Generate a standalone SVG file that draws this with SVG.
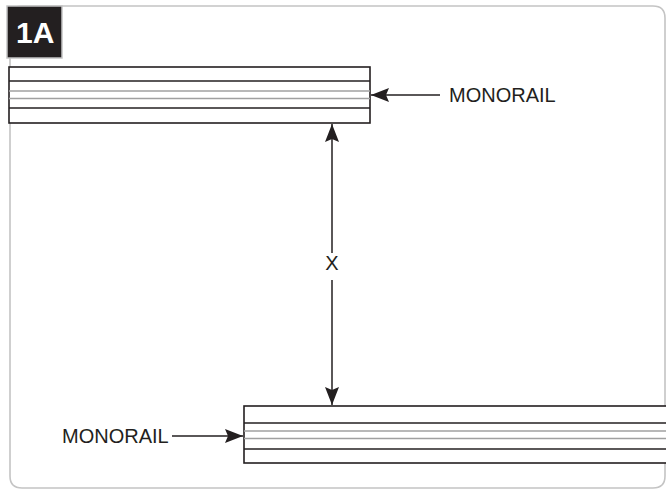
<svg xmlns="http://www.w3.org/2000/svg" width="666" height="490" viewBox="0 0 666 490">
<defs>
<style>
.frame{fill:none;stroke:#c4c4c4;stroke-width:1.6}
.rail{fill:#fff;stroke:#231f20;stroke-width:1.6}
.blk{stroke:#231f20;stroke-width:1.6}
.gry{stroke:#a0a0a0;stroke-width:1.6}
.conn{stroke:#231f20;stroke-width:1.5;fill:none}
.lbl{font-family:"Liberation Sans",Arial,sans-serif;font-size:20px;fill:#231f20}
</style>
<marker id="ah" viewBox="0 0 18 14" refX="18" refY="7" markerWidth="18" markerHeight="14" markerUnits="userSpaceOnUse" orient="auto-start-reverse">
<path d="M0,0 L18,7 L0,14 L3,7 Z" fill="#231f20"/>
</marker>
</defs>
<rect width="666" height="490" fill="#fff"/>
<path class="frame" d="M10,18 Q10,6 22,6 L653,6 Q665,6 665,18 L665,476 Q665,488 653,488 L22,488 Q10,488 10,476 Z"/>
<g id="tag">
<rect x="7" y="6" width="55" height="52" fill="#231f20" stroke="#c4c4c4" stroke-width="1.5"/>
<text x="16" y="43" font-family="'Liberation Sans',Arial,sans-serif" font-size="30" font-weight="bold" fill="#fff">1A</text>
</g>
<g id="monorail-top">
<rect class="rail" x="9" y="67" width="361" height="56"/>
<line class="blk" x1="9" y1="81" x2="370" y2="81"/>
<line class="gry" x1="9" y1="91" x2="370" y2="91"/>
<line class="gry" x1="9" y1="98.5" x2="370" y2="98.5"/>
<line class="blk" x1="9" y1="108" x2="370" y2="108"/>
</g>
<g id="monorail-bottom">
<rect class="rail" x="244" y="406" width="430" height="57"/>
<line class="blk" x1="244" y1="423" x2="666" y2="423"/>
<line class="gry" x1="244" y1="431" x2="666" y2="431"/>
<line class="gry" x1="244" y1="438.5" x2="666" y2="438.5"/>
<line class="blk" x1="244" y1="449" x2="666" y2="449"/>
</g>
<g id="label-top"><text class="lbl" x="449" y="102">MONORAIL</text></g>
<g id="label-bottom"><text class="lbl" x="62" y="443">MONORAIL</text></g>
<g id="label-x"><text class="lbl" x="332" y="270" text-anchor="middle">X</text></g>
<g id="connectors">
<line class="conn" x1="440" y1="95" x2="371" y2="95" marker-end="url(#ah)"/>
<line class="conn" x1="172" y1="436" x2="243" y2="436" marker-end="url(#ah)"/>
<line class="conn" x1="332" y1="253" x2="332" y2="124" marker-end="url(#ah)"/>
<line class="conn" x1="332" y1="280" x2="332" y2="405" marker-end="url(#ah)"/>
</g>
</svg>
